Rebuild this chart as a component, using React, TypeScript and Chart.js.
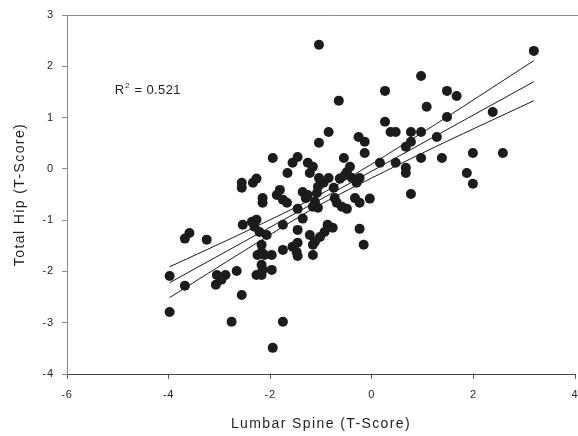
import React, { useEffect, useRef } from "react";
import { Chart, registerables } from "chart.js";

Chart.register(...registerables);

const FONT = "'Liberation Sans', Arial, Helvetica, sans-serif";

// Lumbar spine T-scores (x) and total hip T-scores (y), one entry per subject
const spineT = [
  -1.04, 0.26, -0.65, 0.26, 0.37, 0.47, -0.85, -1.04, -0.26, -0.14,
  -0.14, 3.19, 0.97, 1.48, 1.67, 1.08, 2.38, 1.48, 0.77, 0.97,
  1.28, 0.77, 0.67, 1.99, 2.58, 0.47, 0.97, 1.38, 0.67, 0.67,
  1.87, 1.99, 0.77, 0.16, -1.95, -1.46, -1.56, -1.26, -1.16, -1.22,
  -1.66, -0.55, -0.43, -0.49, -2.56, -2.56, -2.34, -2.27, -1.04, -0.95,
  -1.06, -0.85, -0.63, -0.53, -0.39, -0.3, -0.24, -0.75, -1.81, -1.87,
  -1.75, -1.67, -2.15, -2.15, -1.36, -1.26, -1.3, -1.08, -1.12, -1.16,
  -1.46, -0.73, -0.69, -0.59, -0.49, -0.33, -0.24, -0.04, -1.06, -2.54,
  -2.27, -2.36, -2.31, -2.21, -2.07, -1.75, -1.36, -1.46, -1.22, -3.25,
  -0.87, -0.77, -0.93, -1.02, -1.12, -1.16, -0.24, -0.16, -2.17, -2.17,
  -2.25, -2.11, -1.97, -1.75, -1.56, -1.46, -1.48, -1.46, -1.16, -2.17,
  -2.15, -1.97, -2.27, -2.17, -2.66, -3.05, -2.88, -2.96, -3.07, -2.56,
  -3.59, -3.68, -3.98, -3.68, -3.98, -2.76, -1.75, -1.95,
];
const hipT = [
  2.42, 1.52, 1.33, 0.92, 0.72, 0.72, 0.72, 0.51, 0.62, 0.53,
  0.31, 2.3, 1.81, 1.52, 1.42, 1.21, 1.11, 1.01, 0.72, 0.72,
  0.62, 0.53, 0.43, 0.31, 0.31, 0.12, 0.21, 0.21, 0.02, -0.08,
  -0.08, -0.29, -0.49, 0.12, 0.21, 0.23, 0.12, 0.12, 0.04, -0.08,
  -0.08, 0.21, 0.04, -0.06, -0.27, -0.37, -0.27, -0.19, -0.18, -0.27,
  -0.35, -0.18, -0.19, -0.12, -0.18, -0.27, -0.18, -0.37, -0.41, -0.51,
  -0.6, -0.66, -0.57, -0.66, -0.45, -0.51, -0.57, -0.47, -0.64, -0.74,
  -0.78, -0.57, -0.66, -0.74, -0.78, -0.57, -0.66, -0.58, -0.76, -1.09,
  -0.99, -1.03, -1.13, -1.23, -1.29, -1.09, -0.97, -1.19, -1.29, -1.38,
  -1.09, -1.15, -1.23, -1.33, -1.42, -1.48, -1.17, -1.48, -1.48, -1.62,
  -1.68, -1.68, -1.68, -1.58, -1.52, -1.44, -1.62, -1.7, -1.68, -1.87,
  -1.97, -1.97, -2.07, -2.07, -1.99, -2.07, -2.07, -2.16, -2.26, -2.46,
  -1.25, -1.36, -2.09, -2.28, -2.79, -2.98, -2.98, -3.49,
];

// Regression line and its confidence band
const fitX = [-3.98, 3.19];
const fitY = [-2.22, 1.7];
const bandX = [-3.98, -2.5, -1.0, 1.0, 3.19];
const upperY = [-1.91, -1.23, -0.49, 0.71, 2.11];
const lowerY = [-2.51, -1.59, -0.69, 0.31, 1.33];

const xRange = [-6, 4];
const yRange = [-4, 3];
const xStep = 2;
const yStep = 1;

const xTitle = "Lumbar Spine (T-Score)";
const yTitle = "Total Hip (T-Score)";
const rSquaredText = "0.521";
const rSquaredAt = [-5.06, 1.46];

const pair = (xs: number[], ys: number[]) => xs.map((x, i) => ({ x, y: ys[i] }));

export default function App() {
  const ref = useRef<HTMLCanvasElement | null>(null);

  useEffect(() => {
    if (!ref.current) return;

    const extras = {
      id: "extras",
      beforeDraw(chart: any) {
        chart.ctx.letterSpacing = "1.4px";
      },
      beforeDatasetsDraw(chart: any) {
        chart.ctx.letterSpacing = "0.8px";
      },
      afterDraw(chart: any) {
        const { ctx, chartArea, scales } = chart;
        ctx.save();
        ctx.letterSpacing = "0.4px";
        ctx.strokeStyle = "#8a8a8a";
        ctx.lineWidth = 1;
        ctx.beginPath();
        ctx.moveTo(chartArea.left, Math.round(chartArea.top) + 0.5);
        ctx.lineTo(chart.width, Math.round(chartArea.top) + 0.5);
        ctx.stroke();

        const x = scales.x.getPixelForValue(rSquaredAt[0]);
        const y = scales.y.getPixelForValue(rSquaredAt[1]);
        ctx.fillStyle = "#1e1e1e";
        ctx.textBaseline = "alphabetic";
        ctx.textAlign = "left";
        ctx.font = `13px ${FONT}`;
        ctx.fillText("R", x, y);
        const w1 = ctx.measureText("R").width;
        ctx.font = `8px ${FONT}`;
        ctx.fillText("2", x + w1 + 0.5, y - 6);
        const w2 = ctx.measureText("2").width;
        ctx.font = `13px ${FONT}`;
        ctx.fillText(" = " + rSquaredText, x + w1 + w2 + 1, y);
        ctx.restore();
        ctx.letterSpacing = "0px";
      },
    };

    const lineStyle = {
      type: "line" as const,
      borderColor: "#1a1a1a",
      borderWidth: 1,
      pointRadius: 0,
      fill: false,
      showLine: true,
    };

    const chart = new Chart(ref.current, {
      type: "scatter",
      data: {
        datasets: [
          { ...lineStyle, data: pair(fitX, fitY) },
          { ...lineStyle, data: pair(bandX, upperY), tension: 0.3 },
          { ...lineStyle, data: pair(bandX, lowerY), tension: 0.3 },
          {
            type: "scatter",
            data: pair(spineT, hipT),
            pointRadius: 5,
            pointBackgroundColor: "#1c1c1c",
            pointBorderColor: "#1c1c1c",
            pointBorderWidth: 0,
          },
        ] as any,
      },
      options: {
        animation: false,
        responsive: true,
        maintainAspectRatio: false,
        layout: { padding: { top: 15, right: 25, left: 0, bottom: 0 } },
        plugins: { legend: { display: false }, tooltip: { enabled: false } },
        scales: {
          x: {
            type: "linear",
            min: xRange[0],
            max: xRange[1],
            ticks: { z: 1, stepSize: xStep, padding: 9, color: "#1e1e1e", font: { family: FONT, size: 11 } },
            grid: { drawOnChartArea: false, drawTicks: true, tickLength: 5, color: "#555" },
            border: { display: true, color: "#444", width: 1 },
            title: { display: true, text: xTitle, color: "#1e1e1e", font: { family: FONT, size: 14 }, padding: { top: 0, bottom: 3 } },
            afterFit(scale: any) {
              scale.height = 62;
            },
          },
          y: {
            type: "linear",
            min: yRange[0],
            max: yRange[1],
            ticks: { z: 1, stepSize: yStep, padding: 8, color: "#1e1e1e", font: { family: FONT, size: 11 } },
            grid: { drawOnChartArea: false, drawTicks: true, tickLength: 5, color: "#8a8a8a" },
            border: { display: true, color: "#8a8a8a", width: 1 },
            title: { display: true, text: yTitle, color: "#1e1e1e", font: { family: FONT, size: 14 }, padding: { top: 12, bottom: 0 } },
            afterFit(scale: any) {
              scale.width = 67;
            },
          },
        },
      },
      plugins: [extras],
    });
    return () => chart.destroy();
  }, []);

  return (
    <div style={{ position: "absolute", left: 0, top: 0, width: 578, height: 436, overflow: "hidden", background: "#fff" }}>
      <div style={{ position: "absolute", left: 0, top: 0, width: 600, height: 436 }}>
        <canvas ref={ref} />
      </div>
    </div>
  );
}
